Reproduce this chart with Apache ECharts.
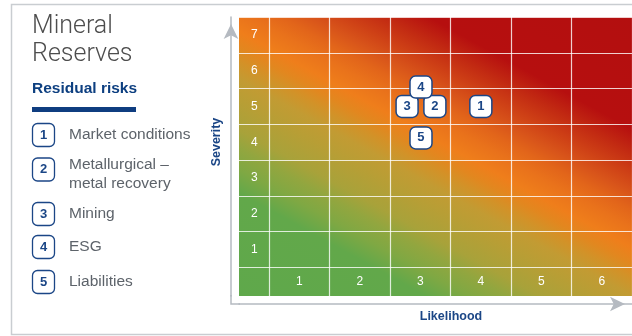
<!DOCTYPE html>
<html>
<head>
<meta charset="utf-8">
<script src="https://cdn.jsdelivr.net/npm/echarts@6/dist/echarts.min.js"></script>
<style>
  html, body { margin: 0; padding: 0; background: #fff; }
  #chart { width: 632px; height: 336px; }
</style>
</head>
<body>
<div id="chart"></div>
<script>
  // risk matrix values
  var xTicks = [1, 2, 3, 4, 5, 6];
  var yTicks = [1, 2, 3, 4, 5, 6, 7];
  var riskIds = ["1", "2", "3", "4", "5"];
  var riskNames = ["Market conditions", "Metallurgical –\nmetal recovery", "Mining", "ESG", "Liabilities"];
  // markers sharing a cell are nudged apart like in the report
  var likelihood = [4, 3.24, 2.78, 3.01, 3.01];
  var severity = [5, 5, 5, 5.54, 4.12];

  var sans = "'Liberation Sans', Arial, sans-serif";
  var blue = "#1b4686";
  var axisGrey = "#b5bac1";

  var chart = echarts.init(document.getElementById("chart"));

  // left hand key
  var rowY = [135, 169.5, 214, 247, 282];
  var textY = [135, 164.5, 214, 247, 282];
  var side = [
    {
      type: "rect",
      shape: { x: 11.5, y: 4.5, width: 640, height: 330 },
      style: { fill: "none", stroke: "#c9cdd1", lineWidth: 1.5 },
    },
    {
      // joins the two offset axis lines at the corner
      type: "polyline",
      shape: { points: [[231, 295], [231, 304], [240, 304]] },
      style: { fill: "none", stroke: axisGrey, lineWidth: 1.5 },
    },
    {
      type: "text",
      x: 32,
      y: 13,
      style: {
        text: "Mineral\nReserves",
        fill: "#4d4d4d",
        font: "300 25px Roboto, sans-serif",
        lineHeight: 28,
        verticalAlign: "top",
      },
    },
    {
      type: "text",
      x: 32,
      y: 89,
      style: {
        text: "Residual risks",
        fill: "#0d3f80",
        font: "bold 15.5px " + sans,
        verticalAlign: "middle",
      },
    },
    {
      type: "rect",
      shape: { x: 32, y: 107, width: 104, height: 5 },
      style: { fill: "#0f3d80" },
    },
  ];
  riskIds.forEach(function (id, i) {
    side.push({
      type: "rect",
      shape: { x: 32.5, y: rowY[i] - 11.5, width: 22, height: 23, r: 5 },
      style: { fill: "#fff", stroke: blue, lineWidth: 1.3 },
    });
    side.push({
      type: "text",
      x: 43.5,
      y: rowY[i],
      style: { text: id, fill: blue, font: "bold 13px " + sans, align: "center", verticalAlign: "middle" },
    });
    side.push({
      type: "text",
      x: 69,
      y: textY[i] - 9.5,
      style: {
        text: riskNames[i],
        fill: "#5d636a",
        font: "15.5px " + sans,
        lineHeight: 19,
        verticalAlign: "top",
      },
    });
  });

  var cellEdges = function (ticks) {
    return ticks.map(function (v) { return v - 0.5; }).concat([ticks[ticks.length - 1] + 0.5]);
  };

  // heat background, green at low risk to red at high risk
  var heat = new echarts.graphic.LinearGradient(0, 1, 0.54, -0.38, [
    { offset: 0, color: "#5fa84b" },
    { offset: 0.205, color: "#62a84a" },
    { offset: 0.252, color: "#7fa843" },
    { offset: 0.295, color: "#92a63f" },
    { offset: 0.33, color: "#a8a23a" },
    { offset: 0.391, color: "#b89e35" },
    { offset: 0.432, color: "#c29b33" },
    { offset: 0.466, color: "#d29228" },
    { offset: 0.495, color: "#e2871f" },
    { offset: 0.527, color: "#ef7e1b" },
    { offset: 0.568, color: "#e9721b" },
    { offset: 0.602, color: "#e2651a" },
    { offset: 0.636, color: "#d8541a" },
    { offset: 0.67, color: "#cf4216" },
    { offset: 0.716, color: "#c22a12" },
    { offset: 0.764, color: "#b60f0f" },
    { offset: 1, color: "#b30f0f" },
  ]);

  var option = {
    backgroundColor: "#fff",
    animation: false,
    graphic: side,
    grid: {
      left: 239,
      right: 0,
      top: 17,
      bottom: 40,
      show: true,
      borderWidth: 0,
      backgroundColor: heat,
    },
    xAxis: {
      type: "value",
      min: 0,
      max: 6.5,
      offset: 8,
      name: "Likelihood",
      nameLocation: "middle",
      nameGap: 5,
      nameTextStyle: {
        color: blue,
        fontFamily: sans,
        fontWeight: "bold",
        fontSize: 12.5,
        padding: [0, 0, 0, 31],
      },
      axisLine: {
        show: true,
        onZero: false,
        symbol: ["none", "arrow"],
        symbolSize: [11, 15],
        symbolOffset: [0, -7],
        lineStyle: { color: axisGrey, width: 1.5 },
      },
      axisTick: { show: false, customValues: cellEdges(xTicks) },
      axisLabel: {
        inside: true,
        margin: 16,
        customValues: xTicks,
        color: "#fff",
        fontSize: 12,
        fontFamily: sans,
      },
      splitLine: { show: true, lineStyle: { color: "rgba(255,255,255,0.8)", width: 1.2 } },
    },
    yAxis: {
      type: "value",
      min: -0.3,
      max: 7.5,
      offset: 8,
      name: "Severity",
      nameLocation: "middle",
      nameRotate: 90,
      nameGap: 5,
      nameTextStyle: {
        color: blue,
        fontFamily: sans,
        fontWeight: "bold",
        fontSize: 12.5,
        padding: [0, 0, 0, 29],
      },
      axisLine: {
        show: true,
        onZero: false,
        symbol: ["none", "arrow"],
        symbolSize: [11, 15],
        symbolOffset: [0, -7],
        lineStyle: { color: axisGrey, width: 1.5 },
      },
      axisTick: { show: false, customValues: cellEdges(yTicks) },
      axisLabel: {
        inside: true,
        margin: 20,
        customValues: yTicks,
        color: "#fff",
        fontSize: 12,
        fontFamily: sans,
      },
      splitLine: { show: true, lineStyle: { color: "rgba(255,255,255,0.8)", width: 1.2 } },
    },
    series: [
      {
        type: "scatter",
        data: riskIds.map(function (id, i) {
          return [likelihood[i], severity[i], id];
        }),
        symbol: "roundRect",
        symbolSize: 22,
        itemStyle: { color: "#fff", borderColor: blue, borderWidth: 1.5, opacity: 1 },
        label: {
          show: true,
          position: "inside",
          formatter: function (p) {
            return p.value[2];
          },
          color: blue,
          fontWeight: "bold",
          fontSize: 13,
          fontFamily: sans,
        },
        emphasis: { disabled: true },
        z: 5,
      },
    ],
  };
  chart.setOption(option);
</script>
</body>
</html>
